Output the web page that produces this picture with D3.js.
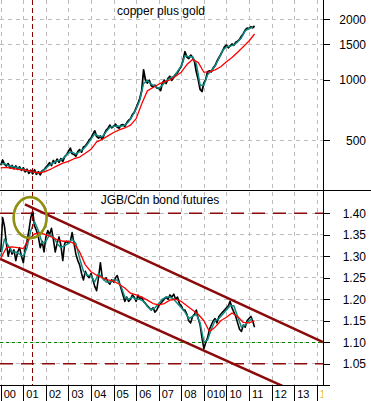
<!DOCTYPE html>
<html>
<head>
<meta charset="utf-8">
<script src="https://cdn.jsdelivr.net/npm/d3@7"></script>
<style>
body { margin: 0; background: #fff; }
svg { display: block; font-family: "Liberation Sans", Arial, sans-serif; }
</style>
</head>
<body>
<svg id="chart" width="371" height="401"></svg>
<script>
// monthly closes, Jan 2000 - Apr 2011
var copperGold = [375,398,380,372,382,364,374,360,372,358,368,354,
    364,348,358,342,354,340,356,338,348,336,352,356,
    366,376,386,374,396,384,402,388,404,392,414,422,
    440,456,428,424,416,438,448,436,462,468,482,500,
    512,536,556,522,512,524,504,534,560,572,594,576,
    586,600,580,574,594,598,586,610,628,638,670,688,
    724,764,806,884,1118,996,964,994,936,920,940,910,
    906,884,964,994,958,1016,1040,994,1026,1062,1086,1126,
    1168,1256,1378,1296,1276,1326,1296,1236,1096,1004,896,874,
    964,1004,1096,1106,1096,1146,1176,1236,1286,1336,1396,1456,
    1486,1444,1476,1506,1484,1536,1556,1586,1646,1696,1766,1806,
    1796,1836,1816,1852];

// fast average, every 2 months
var copperGoldFast = [380,382,374,370,366,362, 358,352,348,346,343,350,
    362,376,386,394,398,412, 432,436,426,438,452,476,
    506,538,524,520,550,580, 586,588,586,594,618,660,
    716,790,960,990,950,930, 905,940,985,1020,1040,1100,
    1170,1320,1300,1300,1200,940, 940,1060,1110,1170,1280,1400,
    1460,1470,1490,1545,1620,1750, 1800,1825];

// slow average, quarterly
var copperGoldSlow = [364,366,362,358, 356,352,346,344, 350,360,372,384,
    392,404,412,430, 450,490,505,525, 546,562,575,594,
    640,760,880,915, 950,975,997,1040, 1090,1190,1260,1220,
    1090,1095,1120,1160, 1230,1290,1370,1460, 1560,1690];

var jgbCdn = [1.31,1.39,1.37,1.33,1.30,1.32,1.305,1.315,1.29,1.31,1.32,1.30,
    1.285,1.32,1.335,1.36,1.39,1.405,1.37,1.36,1.345,1.32,1.335,1.31,
    1.345,1.36,1.35,1.365,1.34,1.31,1.33,1.345,1.325,1.29,1.33,1.335,
    1.33,1.335,1.355,1.33,1.305,1.29,1.28,1.26,1.245,1.265,1.255,1.25,
    1.26,1.245,1.23,1.22,1.25,1.285,1.25,1.245,1.25,1.24,1.235,1.245,
    1.24,1.25,1.255,1.24,1.225,1.21,1.195,1.205,1.195,1.2,1.21,1.205,
    1.195,1.21,1.2,1.205,1.195,1.19,1.185,1.18,1.175,1.18,1.17,1.175,
    1.185,1.19,1.195,1.2,1.205,1.2,1.21,1.205,1.212,1.2,1.205,1.19,
    1.185,1.175,1.175,1.165,1.15,1.145,1.16,1.165,1.175,1.155,1.14,1.11,
    1.085,1.1,1.11,1.13,1.14,1.15,1.155,1.145,1.16,1.165,1.17,1.175,
    1.18,1.185,1.195,1.18,1.17,1.16,1.145,1.13,1.125,1.14,1.135,1.15,
    1.155,1.16,1.15,1.135];

var jgbCdnFast = [1.30,1.34,1.325,1.31,1.31,1.305, 1.30,1.32,1.36,1.38,1.36,1.33,
    1.335,1.35,1.345,1.33,1.32,1.325, 1.33,1.34,1.33,1.295,1.265,1.255,
    1.255,1.24,1.26,1.25,1.24,1.24, 1.245,1.245,1.23,1.205,1.2,1.205,
    1.2,1.2,1.195,1.183,1.175,1.18, 1.19,1.2,1.205,1.205,1.2,1.19,
    1.18,1.17,1.155,1.16,1.165,1.145, 1.1,1.105,1.13,1.15,1.155,1.165,
    1.175,1.185,1.185,1.16,1.135,1.14, 1.15,1.155];

var jgbCdnSlow = [1.295,1.32,1.322,1.32, 1.318,1.34,1.352,1.355, 1.35,1.345,1.338,1.335,
    1.335,1.33,1.31,1.28, 1.264,1.256,1.25,1.245, 1.242,1.235,1.226,1.214,
    1.21,1.205,1.198,1.19, 1.187,1.19,1.198,1.2, 1.195,1.185,1.175,1.165,
    1.15,1.125,1.135,1.15, 1.158,1.168,1.16,1.146, 1.145,1.15];

var yearLabels = ["00","01","02","03","04","05","06","07","08","010","10","11","12","13","14"];
var cgTicks = [500, 1000, 1500, 2000];
var cgMinor = [300,400,600,700,800,1100,1200,1300,1400,1600,1700,1800,1900,2100,2200,2300,2400];
var jgbTicks = [1.05, 1.10, 1.15, 1.20, 1.25, 1.30, 1.35, 1.40];

// trend channel, in decimal years
var channelUpper = [[2001.07, 1.421], [2014.28, 1.10]];
var channelLower = [[1999.97, 1.294], [2013.0, 0.986]];
var highlightYear = 2001.38;
var circleAt = [2001.30, 1.390];

function yearToDate(t) {
    var y = Math.floor(t);
    var d0 = new Date(y, 0, 1), d1 = new Date(y + 1, 0, 1);
    return new Date(+d0 + (t - y) * (d1 - d0));
}

var svg = d3.select("#chart");
var plotRight = 323, topH = 190.7, bottomY = 385.7;

var monthly = d3.timeMonth.range(new Date(2000, 0, 1), new Date(2011, 4, 1));
var bimonthly = d3.timeMonth.every(2).range(new Date(2000, 0, 1), new Date(2011, 3, 1));
var quarterly = d3.timeMonth.every(3).range(new Date(2000, 0, 1), new Date(2011, 4, 1));
var years = d3.timeYear.range(new Date(2000, 0, 1), new Date(2014, 0, 2));

var x = d3.scaleTime().domain([new Date(2000, 0, 1), new Date(2014, 0, 1)]).range([0.75, 316.7]);
var yTop = d3.scaleLog().domain([280, 2496]).range([topH, 0]);
var yBot = d3.scaleLinear().domain([0.9988, 1.4526]).range([bottomY, topH]);

var defs = svg.append("defs");
defs.append("clipPath").attr("id", "clipTop").append("rect")
    .attr("x", 0).attr("y", 0).attr("width", plotRight).attr("height", topH);
defs.append("clipPath").attr("id", "clipBot").append("rect")
    .attr("x", 0).attr("y", topH).attr("width", plotRight).attr("height", bottomY - topH);
// in the axis group's own coordinates
defs.append("clipPath").attr("id", "clipX").append("rect")
    .attr("x", -5).attr("y", 0).attr("width", plotRight + 5).attr("height", 20);

// grid
var grid = svg.append("g")
    .attr("stroke", "#bdbdbd")
    .attr("stroke-dasharray", "4,4")
    .attr("shape-rendering", "crispEdges");

grid.selectAll("line.v").data(years).join("line")
    .attr("class", "v")
    .attr("x1", d => Math.round(x(d)) + 0.5).attr("x2", d => Math.round(x(d)) + 0.5)
    .attr("y1", 0).attr("y2", bottomY);

grid.selectAll("line.ht").data(cgTicks).join("line")
    .attr("class", "ht")
    .attr("x1", 0).attr("x2", plotRight)
    .attr("y1", d => yTop(d)).attr("y2", d => yTop(d));

grid.selectAll("line.hb").data(jgbTicks).join("line")
    .attr("class", "hb")
    .attr("x1", 0).attr("x2", plotRight)
    .attr("y1", d => yBot(d)).attr("y2", d => yBot(d));

// reference levels
var levels = svg.append("g");
levels.selectAll("line").data([1.40, 1.05]).join("line")
    .attr("x1", 0).attr("x2", plotRight)
    .attr("y1", d => yBot(d)).attr("y2", d => yBot(d))
    .attr("stroke", "#8b0a0a").attr("stroke-width", 1.5)
    .attr("stroke-dasharray", "13,8");

levels.append("line")
    .attr("x1", 0).attr("x2", plotRight)
    .attr("y1", yBot(1.10)).attr("y2", yBot(1.10))
    .attr("stroke", "#008000").attr("stroke-width", 1)
    .attr("stroke-dasharray", "3,3")
    .attr("shape-rendering", "crispEdges");

// channel
var channelLine = d3.line().x(d => x(yearToDate(d[0]))).y(d => yBot(d[1]));
svg.append("g").attr("clip-path", "url(#clipBot)")
    .selectAll("path").data([channelUpper, channelLower]).join("path")
    .attr("d", channelLine)
    .attr("fill", "none")
    .attr("stroke", "#8b0a0a")
    .attr("stroke-width", 2.5);

// series
function drawSeries(clip, yScale, dates, values, color, width) {
    var line = d3.line()
        .x((d, i) => x(dates[i]))
        .y(d => yScale(d));
    svg.append("path")
        .attr("clip-path", clip)
        .attr("d", line(values))
        .attr("fill", "none")
        .attr("stroke", color)
        .attr("stroke-width", width)
        .attr("stroke-linejoin", "round");
}

drawSeries("url(#clipTop)", yTop, monthly, copperGold, "#000", 1.8);
drawSeries("url(#clipTop)", yTop, bimonthly, copperGoldFast, "#0f8a80", 1.5);
drawSeries("url(#clipTop)", yTop, quarterly, copperGoldSlow, "#ff0000", 1.3);

drawSeries("url(#clipBot)", yBot, monthly, jgbCdn, "#000", 1.6);
drawSeries("url(#clipBot)", yBot, bimonthly, jgbCdnFast, "#0f8a80", 1.5);
drawSeries("url(#clipBot)", yBot, quarterly, jgbCdnSlow, "#ff0000", 1.3);

// highlight of the 2001 top
var hx = Math.round(x(yearToDate(highlightYear))) + 0.5;
svg.append("line")
    .attr("x1", hx).attr("x2", hx)
    .attr("y1", 0).attr("y2", bottomY)
    .attr("stroke", "#8b0000").attr("stroke-width", 1)
    .attr("stroke-dasharray", "5,3")
    .attr("shape-rendering", "crispEdges");

svg.append("ellipse")
    .attr("cx", x(yearToDate(circleAt[0])))
    .attr("cy", yBot(circleAt[1]))
    .attr("rx", 16.5).attr("ry", 20.5)
    .attr("fill", "none")
    .attr("stroke", "#8f8f10")
    .attr("stroke-width", 2.6);

// titles
svg.append("text").attr("x", 161).attr("y", 15)
    .attr("text-anchor", "middle").attr("font-size", 12)
    .text("copper plus gold");
svg.append("text").attr("x", 160).attr("y", 203.5)
    .attr("text-anchor", "middle").attr("font-size", 12)
    .text("JGB/Cdn bond futures");

// frame
var frame = svg.append("g").attr("stroke", "#000").attr("shape-rendering", "crispEdges");
frame.append("line").attr("x1", 0).attr("x2", 371).attr("y1", topH).attr("y2", topH);
frame.append("line").attr("x1", 0).attr("x2", 330).attr("y1", bottomY).attr("y2", bottomY);
frame.append("line").attr("x1", plotRight).attr("x2", plotRight).attr("y1", 0).attr("y2", bottomY);

// right axes
function rightAxis(scale, major, minor, fmt) {
    var g = svg.append("g").attr("transform", `translate(${plotRight},0)`);
    g.call(d3.axisRight(scale).tickValues(minor).tickSize(4).tickFormat(""));
    g.call(d3.axisRight(scale).tickValues(major).tickSize(7).tickFormat(fmt));
    g.selectAll(".domain").remove();
    g.selectAll("line").attr("shape-rendering", "crispEdges");
    g.selectAll("text")
        .attr("text-anchor", "end")
        .attr("x", 43)
        .attr("font-size", 12)
        .attr("font-family", "Liberation Sans, Arial, sans-serif");
}

rightAxis(yTop, cgTicks, cgMinor, d3.format("d"));
rightAxis(yBot, jgbTicks, d3.range(100, 146).map(d => d / 100), d3.format(".2f"));

// year axis
var xAxis = svg.append("g")
    .attr("transform", `translate(0,${bottomY})`)
    .attr("clip-path", "url(#clipX)")
    .call(d3.axisBottom(x).tickValues(years).tickSize(16).tickFormat((d, i) => yearLabels[i]));
xAxis.select(".domain").remove();
xAxis.selectAll("line").attr("shape-rendering", "crispEdges");
xAxis.selectAll("text")
    .attr("text-anchor", "start")
    .attr("x", 2.5)
    .attr("y", 12.6)
    .attr("dy", 0)
    .attr("font-size", 11)
    .attr("font-family", "Liberation Sans, Arial, sans-serif")
    .attr("fill", (d, i) => i == yearLabels.length - 1 ? "#e2b04a" : "#000");
</script>
</body>
</html>
